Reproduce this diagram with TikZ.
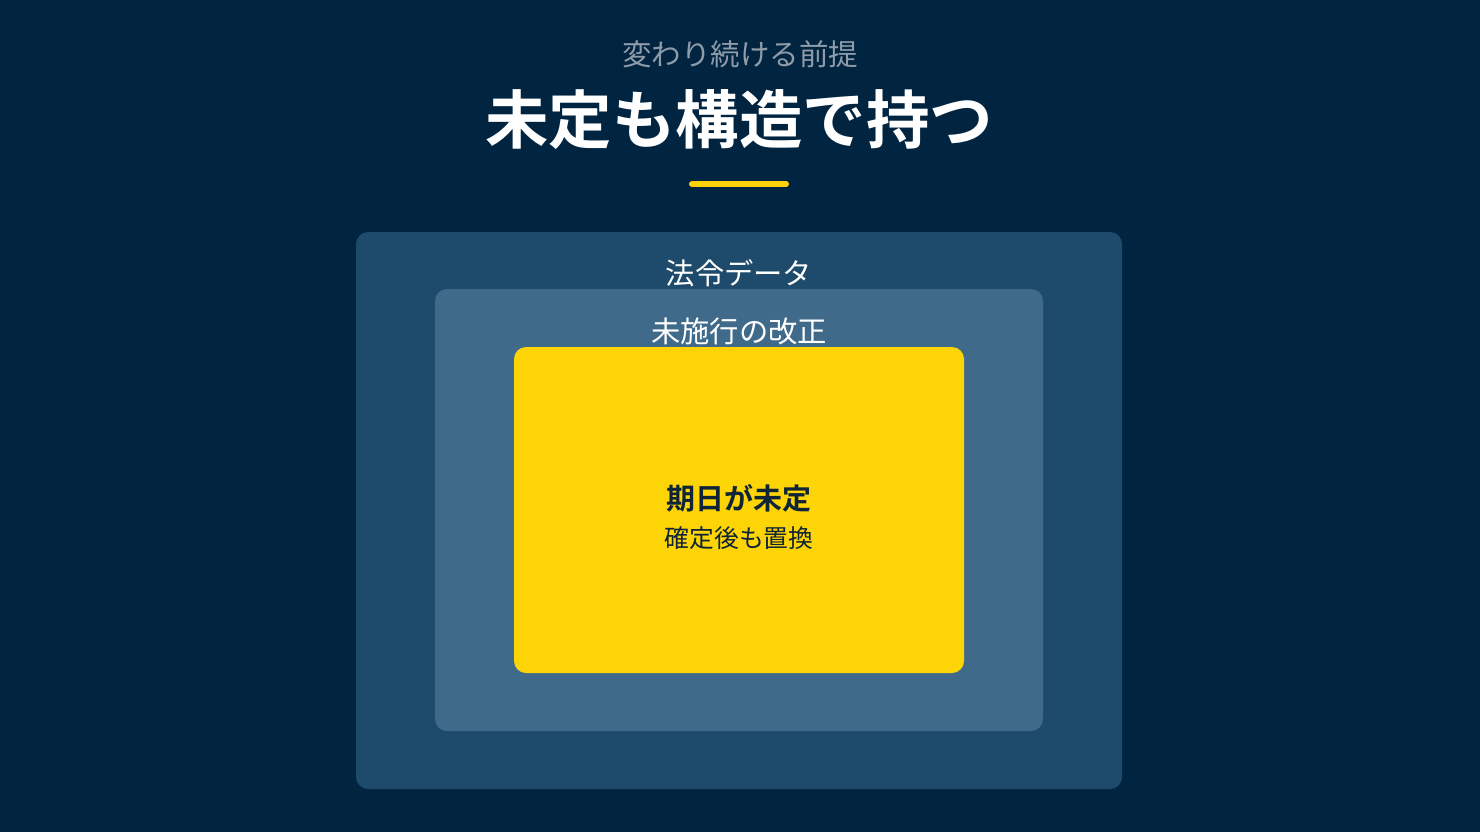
\documentclass[tikz,border=0pt]{standalone}
\usepackage{fontspec}
\newfontfamily\jp{Noto Sans CJK JP}
\newfontfamily\jpb{Noto Sans CJK JP Bold}
\definecolor{bgnavy}{HTML}{012440}
\definecolor{outerblue}{HTML}{1E4A6B}
\definecolor{midblue}{HTML}{3F6A8A}
\definecolor{ylw}{HTML}{FDD405}
\definecolor{subgray}{HTML}{8E9BA8}
\definecolor{darktxt}{HTML}{0F2436}
\tikzset{
  panel/.style={rounded corners=12pt, inner sep=0pt},
  lbl/.style={text=white, font=\jp\fontsize{29.3}{34}\selectfont, inner sep=0pt, anchor=center},
}
\begin{document}
\begin{tikzpicture}[x=1pt,y=-1pt]
\useasboundingbox (0,0) rectangle (1480,832);
\fill[bgnavy] (0,0) rectangle (1480,832);
\node[text=subgray, font=\jp\fontsize{29.5}{34}\selectfont, inner sep=0pt] (sub) at (740,54) {変わり続ける前提};
\node[text=white, font=\jpb\fontsize{63.5}{70}\selectfont, inner sep=0pt] (title) at (739,120) {未定も構造で持つ};
\draw[ylw, line width=6pt, line cap=round] (692,184) -- (786,184);
\fill[outerblue, panel] (356,232) rectangle (1122,789);
\node[lbl] (law) at (739,273) {法令データ};
\fill[midblue, panel] (435,289) rectangle (1043,731);
\node[lbl] (amend) at (739,331) {未施行の改正};
\fill[ylw, panel] (514,347) rectangle (964,673);
\node[text=darktxt, font=\jpb\fontsize{29}{34}\selectfont, inner sep=0pt] (undet) at (739,498) {期日が未定};
\node[text=darktxt, font=\jp\fontsize{24.8}{30}\selectfont, inner sep=0pt] (repl) at (739,538) {確定後も置換};
\end{tikzpicture}
\end{document}
